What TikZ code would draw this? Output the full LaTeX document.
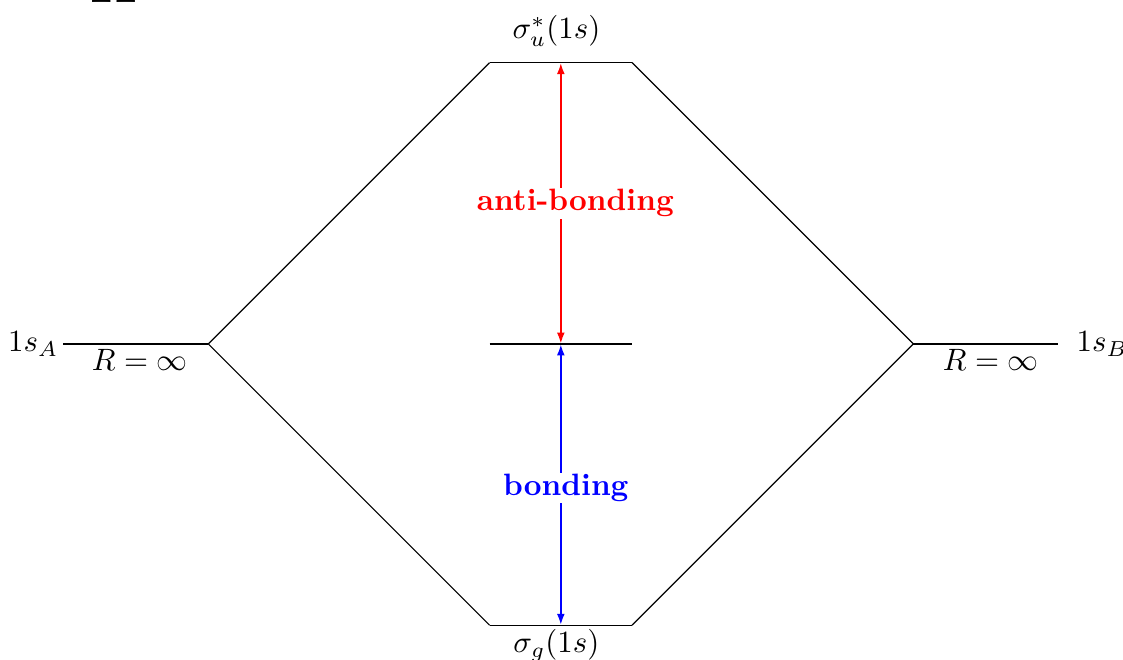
\documentclass[tikz,border=0pt]{standalone}
\usepackage{tikz}
\usetikzlibrary{arrows.meta, positioning}

\begin{document}
\begin{tikzpicture}[
  font=\normalsize,
  lvl/.style={draw=black, line width=0.4pt},
  arr/.style={{Latex[length=1.3mm, width=0.9mm]}-{Latex[length=1.3mm, width=0.9mm]}, line width=0.7pt},
  tag/.style={font=\bfseries, fill=white, inner sep=0.5pt},
  lbl/.style={inner sep=0pt}
]
\useasboundingbox (-6.38,-3.595) rectangle (6.395,3.913);
% energy levels
\coordinate (aL) at (-5.66,0);
\coordinate (aR) at (-4.01,0);
\coordinate (bL) at (4.01,0);
\coordinate (bR) at (5.66,0);
\coordinate (uL) at (-0.81,3.2);
\coordinate (uR) at (0.81,3.2);
\coordinate (gL) at (-0.81,-3.2);
\coordinate (gR) at (0.81,-3.2);
\coordinate (mL) at (-0.81,0);
\coordinate (mR) at (0.81,0);
\coordinate (u) at (0,3.2);
\coordinate (m) at (0,0);
\coordinate (g) at (0,-3.2);
\coordinate (aC) at (-4.79,0);
\coordinate (bC) at (4.89,0);
\foreach \x/\y in {aL/aR,bL/bR,uL/uR,gL/gR,mL/mR,aR/uL,aR/gL,uR/bL,gR/bL}
  \draw[lvl] (\x) -- (\y);
% splitting
\draw[arr, red] (m) -- (u);
\draw[arr, blue] (m) -- (g);
\node[tag, text=red] (anti) at (0.165,1.6) {anti-bonding};
\node[tag, text=blue] (bond) at (0.057,-1.64) {bonding};
% labels
\node[lbl, left=0.05cm of aL] (sA) {$1s_A$};
\node[lbl, right=0.2cm of bR] (sB) {$1s_B$};
\node[lbl, below=0.05cm of aC] (RA) {$R=\infty$};
\node[lbl, below=0.05cm of bC] (RB) {$R=\infty$};
\node[above=0.06cm of u, xshift=-0.05cm] (su) {$\sigma_u^*(1s)$};
\node[lbl, below=0.04cm of g, xshift=-0.05cm] (sg) {$\sigma_g(1s)$};
\node[lbl, anchor=base west, font=\LARGE\bfseries] (title) at (-5.36,3.879) {H};
\end{tikzpicture}
\end{document}
